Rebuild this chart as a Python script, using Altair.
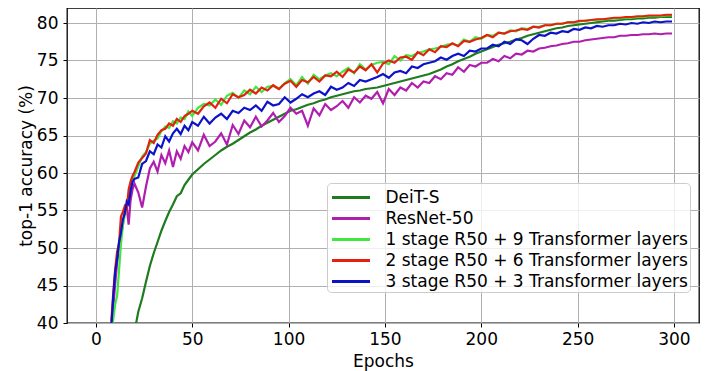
import altair as alt
import pandas as pd

epochs = [8, 9, 10, 11, 12, 13, 14, 15, 16, 17, 18, 19, 20, 22, 24, 26, 28, 30, 32, 34, 36, 38, 40, 42, 44, 46, 48, 50,
          53, 56, 59, 62, 65, 68, 71, 74, 77, 80,
          83, 86, 89, 92, 95, 98, 101, 104, 107, 110,
          113, 116, 119, 122, 125, 128, 131, 134, 137, 140,
          143, 146, 149, 152, 155, 158, 161, 164, 167, 170,
          173, 176, 179, 182, 185, 188, 191, 194, 197, 200,
          203, 206, 209, 212, 215, 218, 221, 224, 227, 230,
          233, 236, 239, 242, 245, 248, 251, 254, 257, 260,
          263, 266, 269, 272, 275, 278, 281, 284, 287, 290,
          293, 296, 299]

series_names = ["DeiT-S", "ResNet-50", "1 stage R50 + 9 Transformer layers",
                "2 stage R50 + 6 Transformer layers", "3 stage R50 + 3 Transformer layers"]
series_colors = ["#1e7b1e", "#b01eb0", "#3ee83e", "#e4200e", "#0c12c8"]

deit = [None, None, None, None, None, None, None, None, None, None, None, None,
        38.8, 41.5, 43.3, 45.5, 47.6, 49.3, 50.8, 52.3, 53.6, 54.8, 55.8, 56.9, 57.3, 58.4, 59.1, 59.8,
        60.5, 61.2, 61.8, 62.4, 63.0, 63.5, 63.9, 64.4, 64.9, 65.4,
        65.8, 66.3, 66.7, 67.1, 67.5, 67.9, 68.3, 68.5, 68.8, 69.1,
        69.3, 69.6, 69.8, 70.1, 70.3, 70.5, 70.7, 70.9, 71.0, 71.2,
        71.3, 71.4, 71.6, 71.8, 72.0, 72.2, 72.4, 72.6, 72.8, 73.0,
        73.2, 73.5, 73.8, 74.2, 74.5, 74.9, 75.2, 75.5, 75.9, 76.2,
        76.5, 76.8, 77.1, 77.3, 77.5, 77.8, 78.0, 78.3, 78.5, 78.7,
        78.9, 79.1, 79.3, 79.4, 79.6, 79.7, 79.8, 79.9, 80.0, 80.1,
        80.2, 80.3, 80.3, 80.4, 80.5, 80.5, 80.6, 80.6, 80.7, 80.7,
        80.8, 80.8, 80.8]

resnet = [39.0, 42.0, 45.2, 48.0, 50.2, 51.5, 53.2, 55.0, 55.4, 53.1, 56.4, 57.8, 58.6, 57.4, 55.4, 58.2,
          60.6, 61.5, 60.2, 62.4, 61.3, 63.0, 60.8, 62.9, 61.9, 63.6, 62.8, 64.1,
          63.0, 65.1, 63.6, 64.2, 65.3, 63.8, 66.4, 65.2, 67.0, 66.1,
          67.5, 66.2, 67.0, 68.0, 66.8, 67.6, 68.7, 67.9, 68.3, 66.3,
          68.6, 67.7, 69.2, 68.4, 68.9, 69.6, 68.7, 70.1, 69.4, 70.3,
          69.9, 70.8, 69.3, 71.2, 70.4, 71.4, 71.0, 72.0, 71.4, 72.2,
          72.0, 72.9, 72.5, 73.3, 73.1, 74.1, 73.5, 74.4, 74.2, 74.7,
          74.7, 75.2, 74.9, 75.6, 75.3, 75.9, 75.8, 76.3, 76.2, 76.6,
          76.7, 76.9, 77.0, 77.2, 77.3, 77.5, 77.5, 77.7, 77.8, 77.9,
          78.0, 78.1, 78.1, 78.3, 78.3, 78.4, 78.4, 78.5, 78.5, 78.6,
          78.5, 78.6, 78.6]

stage1 = [38.5, 40.5, 42.5, 43.6, 47.0, 50.5, 53.0, 54.4, 55.6, 56.8, 58.0, 59.0, 59.6, 60.9, 62.2, 62.8,
          63.9, 64.3, 64.6, 65.6, 66.2, 66.0, 66.9, 66.6, 67.4, 67.2, 68.2, 67.6,
          68.7, 69.2, 69.0, 69.8, 69.1, 70.3, 70.7, 70.0, 71.0, 70.5,
          71.5, 70.8, 71.5, 71.6, 71.2, 72.0, 72.5, 71.7, 72.8, 71.9,
          73.1, 72.5, 73.0, 73.3, 72.9, 73.5, 74.0, 73.3, 74.5, 73.8,
          74.4, 74.7, 74.8, 74.5, 75.6, 75.0, 75.7, 75.6, 76.0, 76.2,
          76.5, 76.6, 76.8, 77.1, 77.2, 77.0, 77.8, 77.5, 78.1, 77.9,
          78.4, 78.3, 78.7, 78.6, 79.0, 78.9, 79.3, 79.2, 79.5, 79.5,
          79.7, 79.7, 79.9, 79.9, 80.1, 80.1, 80.2, 80.3, 80.4, 80.4,
          80.5, 80.5, 80.6, 80.6, 80.7, 80.7, 80.8, 80.8, 80.9, 80.9,
          80.9, 81.0, 81.0]

stage2 = [40.2, 44.0, 47.2, 49.5, 50.6, 54.2, 54.8, 55.6, 55.2, 57.8, 58.9, 59.6, 60.1, 61.4, 62.0, 62.6,
          64.4, 64.0, 65.1, 65.7, 65.9, 66.6, 66.3, 67.2, 66.8, 67.6, 67.9, 68.3,
          67.9, 68.9, 69.4, 68.7, 69.9, 69.3, 70.5, 70.1, 70.4, 71.1,
          70.6, 71.4, 71.0, 71.7, 71.2, 71.9, 72.3, 71.5, 72.4, 72.1,
          72.8, 72.2, 73.0, 72.9, 73.5, 72.8, 73.8, 73.4, 74.2, 73.7,
          74.5, 73.4, 74.6, 75.0, 74.7, 75.4, 75.5, 75.1, 76.1, 75.7,
          76.5, 76.1, 76.9, 76.8, 77.3, 76.9, 77.6, 77.5, 77.8, 78.0,
          78.4, 78.1, 78.7, 78.6, 78.9, 79.0, 79.2, 79.1, 79.5, 79.4,
          79.7, 79.7, 79.9, 79.9, 80.1, 80.1, 80.3, 80.3, 80.4, 80.5,
          80.5, 80.6, 80.7, 80.7, 80.8, 80.8, 80.9, 80.9, 81.0, 81.0,
          81.0, 81.1, 81.1]

stage3 = [39.5, 43.5, 46.8, 48.5, 50.8, 52.0, 53.8, 54.6, 56.2, 55.8, 57.6, 58.8, 59.2, 59.4, 61.2, 61.6,
          62.9, 62.5, 63.8, 63.4, 64.9, 64.2, 65.3, 65.9, 65.2, 66.3, 65.7, 66.8,
          66.3, 67.5, 66.6, 67.4, 67.9, 67.2, 68.3, 68.0, 68.7, 68.4,
          69.0, 68.3, 69.5, 69.0, 69.2, 70.1, 69.4, 69.9, 70.5, 70.1,
          70.6, 70.9, 70.4, 71.5, 71.1, 71.4, 72.0, 71.6, 72.4, 72.2,
          72.5, 72.8, 73.2, 72.7, 73.4, 73.6, 73.3, 74.2, 74.0, 74.5,
          74.7, 74.9, 75.4, 75.1, 75.6, 75.9, 75.6, 76.3, 76.2, 76.6,
          76.6, 77.1, 76.9, 77.5, 77.2, 77.8, 77.7, 77.2, 77.9, 78.4,
          78.3, 78.7, 78.6, 78.9, 78.8, 79.2, 79.1, 79.4, 79.3, 79.6,
          79.5, 79.7, 79.7, 79.9, 79.8, 80.0, 79.9, 80.1, 80.0, 80.2,
          80.1, 80.2, 80.2]

series_values = [deit, resnet, stage1, stage2, stage3]

x_ticks = [0, 50, 100, 150, 200, 250, 300]
y_ticks = [40, 45, 50, 55, 60, 65, 70, 75, 80]

rows = []
for name, vals in zip(series_names, series_values):
    for e, v in zip(epochs, vals):
        if v is not None:
            rows.append({"epoch": e, "acc": v, "series": name})
df = pd.DataFrame(rows)

FONT = "DejaVu Sans"

color_scale = alt.Scale(domain=series_names, range=series_colors)
legend = alt.Legend(
    title=None, orient="none", legendX=260, legendY=175, padding=2, rowPadding=0,
    symbolType="M-1.727,0H1.727", symbolSize=484, symbolStrokeWidth=3,
    symbolOffset=9.5, labelOffset=22, labelFontSize=17, labelFont=FONT,
    labelLimit=400, labelColor="black", fillColor="rgba(255,255,255,0.8)",
    strokeColor="#cccccc", cornerRadius=4,
)

x_enc = alt.X("epoch:Q", scale=alt.Scale(domain=[-15, 313], nice=False, zero=False),
              axis=alt.Axis(values=x_ticks, title="Epochs", grid=True, domain=False,
                            tickSize=4, tickColor="black", labelPadding=4,
                            labelFontSize=17, labelColor="black", labelFont=FONT,
                            titleFontSize=17, titleFontWeight="normal", titleColor="black",
                            titleFont=FONT, titlePadding=6,
                            gridColor="#b0b0b0", gridWidth=1))
y_enc = alt.Y("acc:Q", scale=alt.Scale(domain=[40, 82], nice=False, zero=False),
              axis=alt.Axis(values=y_ticks, title="top-1 accuracy (%)", grid=True, domain=False,
                            tickSize=4, tickColor="black", labelPadding=5,
                            labelFontSize=17, labelColor="black", labelFont=FONT,
                            titleFontSize=17, titleFontWeight="normal", titleColor="black",
                            titleFont=FONT, titlePadding=1,
                            gridColor="#b0b0b0", gridWidth=1))

base = alt.Chart(df)
layers = []
for name in series_names:
    layers.append(
        base.transform_filter(alt.datum.series == name)
        .mark_line(clip=True, strokeWidth=2.2)
        .encode(x=x_enc, y=y_enc,
                color=alt.Color("series:N", scale=color_scale, legend=legend))
    )

chart = alt.layer(*layers).properties(
    width=632, height=315,
    padding={"left": 59, "top": 0, "right": 1, "bottom": 48},
    autosize="none",
).configure(font=FONT).configure_view(stroke="black", strokeWidth=1.3)

chart.save("out.html", embed_options={"renderer": "svg", "actions": False})
